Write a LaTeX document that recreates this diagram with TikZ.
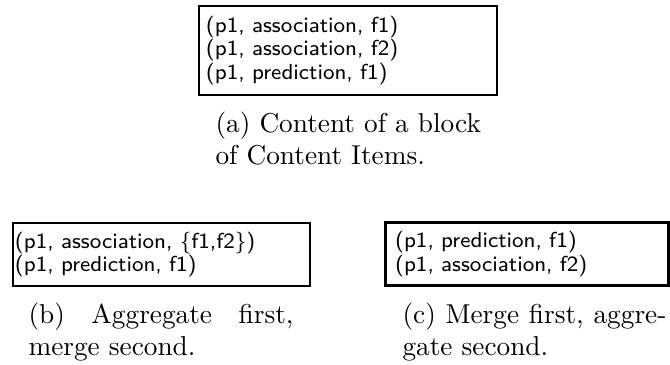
\documentclass[tikz,border=0pt]{standalone}
\usepackage{amsmath}
\usepackage{tikz}
\tikzset{
    itembox/.style={draw, line width=1.1pt, inner ysep=0pt,
    	align=left, font=\fontsize{8.2}{8.8}\selectfont\sffamily}
}
\tikzset{
    subcap/.style={inner sep=0pt, anchor=north west, align=justify,
    	font=\fontsize{10.3}{12}\selectfont}
}

\begin{document}
\begin{tikzpicture}[x=0.3774pt, y=-0.3774pt]
  \useasboundingbox (0, 0) rectangle (670, 365);

  \node (blocka) [itembox, inner xsep=2.64pt, text width=107.2pt,
    minimum height=33.6pt] at (348, 50.5)
    {(p1, association, f1)\\(p1, association, f2)\\(p1, prediction, f1)};
  \node (capa) [subcap, text width=110pt, align=left] at (215, 112)
    {(a) Content of a block\\of Content Items.};

  \node (blockb) [itembox, inner xsep=0.75pt, text width=110.6pt,
    minimum height=23.8pt] at (161.5, 254.5)
    {(p1, association, \{f1,f2\})\\(p1, prediction, f1)};
  \node (capb) [subcap, text width=100pt] at (28, 303)
    {(b) Aggregate first,\linebreak merge second.};

  \node (blockc) [itembox, inner xsep=3.77pt, text width=99.4pt,
    minimum height=23.8pt] at (526.75, 254)
    {(p1, prediction, f1)\\(p1, association, f2)};
  \node (capc) [subcap, text width=99.6pt] at (402, 303)
    {(c) Merge first, aggre-\linebreak gate second.};
\end{tikzpicture}
\end{document}
